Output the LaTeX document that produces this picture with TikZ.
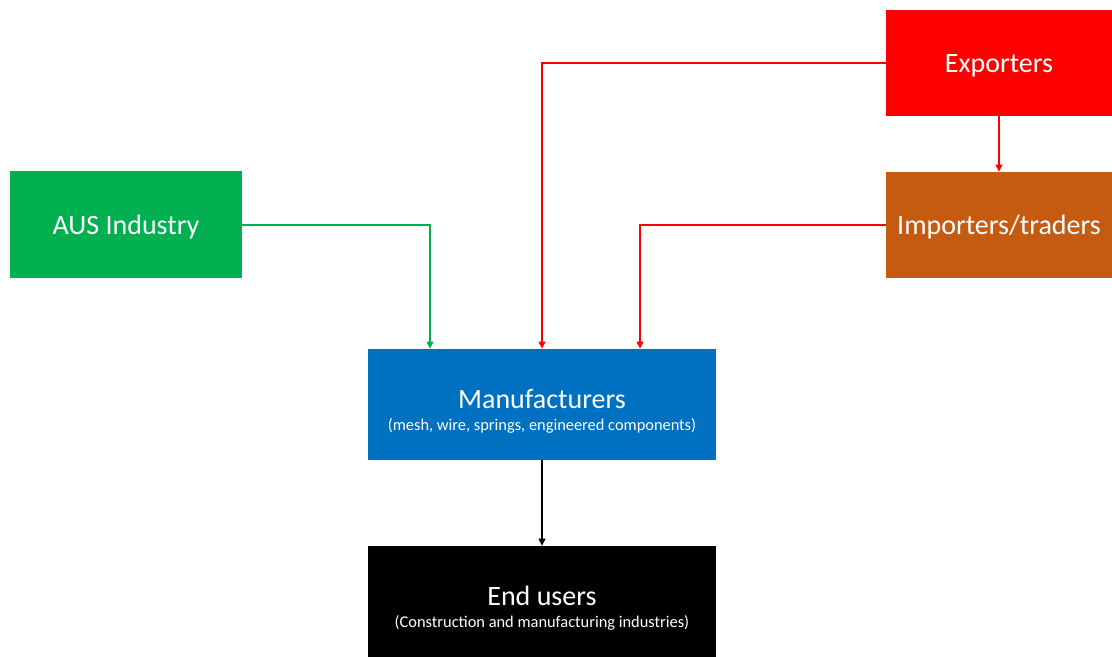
\documentclass[tikz,border=0pt]{standalone}
\usepackage{fontspec}
\setmainfont{Carlito}
\usetikzlibrary{arrows.meta,positioning}

\definecolor{expred}{HTML}{FF0000}
\definecolor{impbrown}{HTML}{C55A11}
\definecolor{ausgreen}{HTML}{00B050}
\definecolor{manblue}{HTML}{0070C0}

\begin{document}
\begin{tikzpicture}[x=0.5pt, y=-0.5pt,
    box/.style={rectangle, text=white, align=center, inner sep=0pt,
                font=\fontsize{14}{17}\selectfont},
    flow/.style={line width=0.7pt, -{Triangle[length=3.5pt,width=3.5pt]}}]
  \useasboundingbox (0,0) rectangle (1112,657);

  \node[box, fill=expred, minimum width=113pt, minimum height=53pt] (exp) at (999,63) {\rule{0pt}{12pt}Exporters};
  \node[box, fill=impbrown, minimum width=113pt, minimum height=53pt] (imp) at (999,225) {\rule{0pt}{12pt}Importers/traders};
  \node[box, fill=ausgreen, minimum width=116pt, minimum height=53.5pt] (aus) at (126,225) {\rule{0pt}{12pt}AUS Industry};

  \node[box, fill=manblue, minimum width=174pt, minimum height=55.5pt] (man) at (542,404.5)
       {\rule{0pt}{16pt}Manufacturers\\[-6pt]
        {\fontsize{8.2}{10}\selectfont (mesh, wire, springs, engineered components)}};
  \node[box, fill=black, minimum width=174pt, minimum height=55.5pt] (end) at (542,601.5)
       {\rule{0pt}{16pt}End users\\[-6pt]
        {\fontsize{8.2}{10}\selectfont (Construction and manufacturing industries)}};

  % supply routes into the manufacturers
  \draw[flow, ausgreen] (aus.east) -| ([xshift=-56pt]man.north);
  \draw[flow, expred] (exp.west) -| (man.north);
  \draw[flow, expred] (imp.west) -| ([xshift=49pt]man.north);
  \draw[flow, expred] (exp.south) -- (imp.north);
  \draw[flow, black] (man.south) -- (end.north);
\end{tikzpicture}
\end{document}
